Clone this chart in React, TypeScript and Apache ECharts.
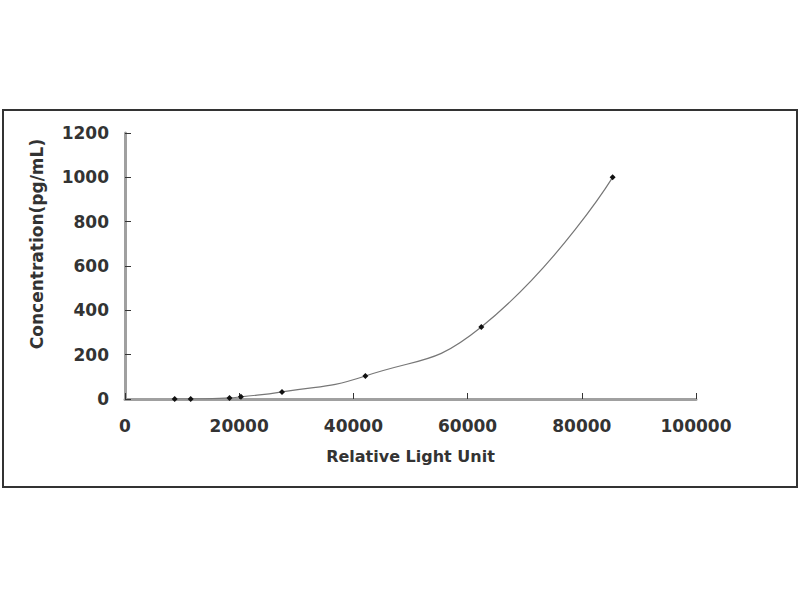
import { useEffect, useRef } from 'react';
import * as echarts from 'echarts';

const rlu = [8700, 11500, 18300, 20300, 27500, 42100, 62400, 85400];
const concentration = [0, 0, 5, 10, 32, 104, 325, 1000];

const xTicks = { min: 0, max: 100000, interval: 20000 };
const yTicks = { min: 0, max: 1200, interval: 200 };

export default function App() {
  const containerRef = useRef<HTMLDivElement>(null);

  useEffect(() => {
    if (!containerRef.current) return;
    document.body.style.margin = '0';

    const chart = echarts.init(containerRef.current, undefined, { renderer: 'svg' });
    const font = '"DejaVu Sans", sans-serif';
    const txt = { fontSize: 17, fontWeight: 'bold' as const, color: '#333', fontFamily: font };

    const option: echarts.EChartsOption = {
      animation: false,
      backgroundColor: '#fff',
      textStyle: { fontFamily: font },
      graphic: [
        {
          type: 'rect',
          shape: { x: 3, y: 110, width: 794, height: 377 },
          style: { fill: 'none', stroke: '#333', lineWidth: 2 },
          silent: true
        },
        // y axis title sits a bit above the plot's centre in the reference
        {
          type: 'text',
          x: 37,
          y: 244,
          rotation: Math.PI / 2,
          style: {
            text: 'Concentration(pg/mL)',
            align: 'center',
            verticalAlign: 'middle',
            font: `bold 17px ${font}`,
            fill: '#333'
          },
          silent: true
        }
      ],
      grid: { left: 125, right: 104, top: 133, bottom: 201 },
      xAxis: {
        type: 'value',
        ...xTicks,
        name: 'Relative Light Unit',
        nameLocation: 'middle',
        nameGap: 49,
        nameTextStyle: { ...txt, fontSize: 16 },
        axisLine: { lineStyle: { color: '#a0a0a0', width: 3 } },
        axisTick: { inside: true, length: 6, lineStyle: { color: '#333', width: 1 } },
        axisLabel: { ...txt, margin: 18, formatter: (v: number) => String(v) },
        splitLine: { show: false }
      },
      yAxis: {
        type: 'value',
        ...yTicks,
        axisLine: { show: true, lineStyle: { color: '#a0a0a0', width: 3 } },
        axisTick: { show: true, inside: true, length: 6, lineStyle: { color: '#333', width: 1 } },
        axisLabel: { ...txt, margin: 16, formatter: (v: number) => String(v) },
        splitLine: { show: false }
      },
      series: [
        {
          type: 'line',
          data: rlu.map((x, i) => [x, concentration[i]]),
          smooth: 0.5,
          symbol: 'diamond',
          symbolSize: 6,
          itemStyle: { color: '#111' },
          lineStyle: { color: '#777', width: 1.2 }
        }
      ]
    };

    chart.setOption(option);
    return () => chart.dispose();
  }, []);

  return <div ref={containerRef} style={{ width: 800, height: 600 }} />;
}
